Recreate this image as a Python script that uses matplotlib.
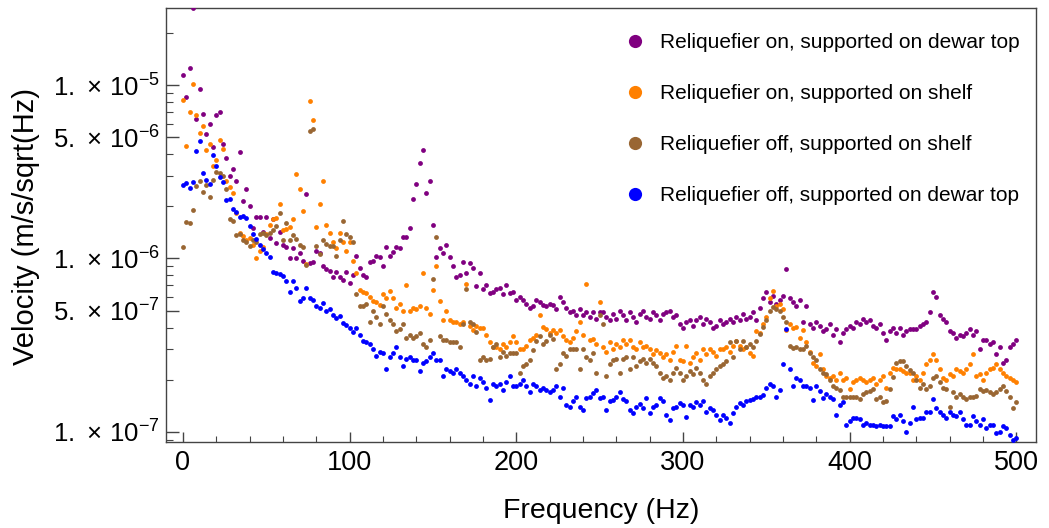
import numpy as np
import matplotlib
matplotlib.use("Agg")
import matplotlib.pyplot as plt
from matplotlib.lines import Line2D
from matplotlib.ticker import LogLocator, FuncFormatter, MultipleLocator, NullFormatter

plt.rcParams["font.family"] = ["Liberation Sans", "DejaVu Sans"]
plt.rcParams["mathtext.fontset"] = "custom"
plt.rcParams["mathtext.rm"] = "Liberation Sans"
plt.rcParams["mathtext.it"] = "Liberation Sans:italic"

# frequency grid (Hz), 2 Hz step
freq = np.arange(0, 501, 2)

# velocity spectra, in units of 1e-7 m/s/sqrt(Hz), one row = 20 Hz
on_dewar = [
    115, 85, 125, 278, 64, 95, 68, 52, 60, 44,
    67, 70, 46, 38, 30, 33, 28, 41, 21.5, 25,
    20, 15, 17.3, 17.3, 14.2, 17.3, 13.1, 17, 12.3, 14.2,
    12, 11.7, 10, 11.5, 10, 10.7, 9.7, 23.5, 9.4, 9.6,
    11, 10.7, 9.1, 8.7, 8.5, 7.8, 8.4, 7.8, 7.5, 8.4,
    7.2, 8, 10.4, 8.8, 8, 7.8, 9.6, 9.7, 10.4, 10.2,
    9, 11.6, 10.4, 10.9, 11.7, 11.5, 13.3, 13.3, 15, 22,
    27, 35.5, 42, 24, 28, 15.6, 10.2, 11.5, 10.8, 12,
    10.2, 9, 7.8, 8, 9.6, 8.2, 9.4, 8.8, 6.9, 8.2,
    6.7, 7, 6.3, 6.4, 6.7, 6.8, 6.2, 7, 6.3, 6.4,
    5.8, 6, 5.8, 5.5, 5.2, 5.3, 5.8, 5.6, 5.4, 5.3,
    5.5, 5.4, 5.1, 6, 5.6, 5.2, 4.9, 5.0, 4.75, 5.1,
    4.75, 4.9, 4.6, 4.9, 4.5, 4.9, 4.9, 4.6, 4.4, 4.8,
    4.5, 5.0, 4.7, 4.4, 4.9, 4.6, 4.3, 4.8, 5.0, 4.6,
    4.5, 4.9, 4.7, 4.4, 4.8, 4.9, 5.0, 4.6, 4.7, 4.2,
    4.0, 4.3, 4.4, 4.1, 4.4, 4.6, 4.2, 4.5, 4.3, 4.0,
    4.1, 4.4, 4.2, 4.3, 4.5, 4.3, 4.6, 4.4, 4.8, 4.5,
    4.6, 4.9, 4.4, 5.2, 5.9, 6.4, 5.6, 6.1, 5.5, 5.8,
    6.1, 8.7, 5.9, 5.6, 5.3, 5.8, 4.3, 5.3, 4.2, 4.0,
    4.3, 4.1, 3.8, 3.9, 4.2, 3.6, 3.9, 3.3, 3.7, 3.9,
    4.1, 4.0, 4.3, 4.2, 4.5, 4.3, 4.4, 4.1, 4.0, 4.2,
    3.7, 3.4, 3.8, 4.0, 3.7, 4.0, 3.6, 3.8, 3.9, 3.9,
    3.9, 4.1, 4.2, 4.3, 4.9, 6.4, 6.0, 4.7, 4.5, 4.3,
    3.8, 3.7, 3.5, 3.6, 3.55, 3.7, 3.9, 3.6, 3.8, 3.0,
    3.4, 3.4, 3.2, 3.3, 2.8, 3.1, 2.5, 2.6, 3.1, 3.2,
    3.4,
]

on_shelf = [
    82, 44.5, 70, 101, 67, 53, 58, 42, 46, 34,
    37, 48, 43, 28, 26, 24, 18.4, 14.1, 13.5, 12.8,
    13.2, 12, 10, 11.1, 11.6, 13.8, 15.7, 16.8, 17.2, 20.5,
    14.5, 14.7, 15.2, 17, 30.6, 25.2, 18.8, 9.3, 81, 63,
    15.2, 20.5, 28, 15.5, 14.1, 12.4, 11.5, 14, 12.5, 11.1,
    12.4, 9.7, 8.3, 6.6, 6.4, 6.3, 6.0, 5.65, 5.6, 5.4,
    6.2, 5.9, 6.5, 5.9, 5.2, 5.5, 4.95, 7, 5, 5.2,
    5.1, 5.3, 8.2, 5.2, 4.8, 6.6, 9.0, 5.65, 4.4, 5.0,
    4.4, 4.3, 4.3, 4.2, 4.3, 7.1, 4.1, 3.85, 4.1, 3.95,
    3.95, 3.6, 3.3, 3.1, 3.1, 3.0, 3.2, 3.1, 3.3, 3.55,
    3.3, 3.0, 3.0, 3.15, 3.4, 3.5, 3.6, 4.75, 4.05, 3.9,
    3.7, 3.85, 3.7, 3.85, 3.55, 3.4, 3.3, 3.5, 3.8, 4.3,
    3.6, 7.1, 3.4, 3.45, 3.2, 5.6, 3.1, 2.9, 3.3, 3.0,
    3.2, 3.1, 3.4, 3.2, 3.4, 3.1, 3.0, 3.3, 3.1, 3.15,
    3.0, 2.8, 2.95, 2.85, 2.7, 2.8, 2.6, 2.9, 3.15, 2.6,
    2.55, 3.15, 2.5, 2.7, 2.85, 2.6, 3.0, 2.8, 3.0, 2.9,
    2.75, 3.0, 3.0, 3.1, 2.9, 3.15, 3.35, 3.15, 3.0, 3.1,
    2.85, 2.75, 3.8, 3.7, 4.2, 4.6, 5.9, 6.5, 5.3, 5.45,
    5.1, 3.85, 4.2, 3.95, 4.05, 3.5, 3.85, 3.3, 2.9, 2.5,
    2.4, 2.8, 2.3, 2.1, 2.05, 2.1, 2.0, 2.2, 1.98, 2.05,
    1.77, 1.93, 2.0, 2.05, 2.0, 1.95, 1.98, 2.05, 1.9, 1.98,
    2.1, 1.8, 2.2, 2.35, 2.3, 2.3, 2.25, 2.2, 2.2, 1.98,
    2.1, 2.0, 2.2, 2.45, 2.6, 2.8, 2.6, 2.3, 2.05, 2.0,
    2.15, 2.1, 2.3, 2.25, 2.2, 2.3, 2.45, 2.8, 2.1, 2.15,
    2.0, 2.2, 2.3, 2.35, 2.45, 2.3, 2.2, 2.1, 2.05, 1.98,
    1.93,
]

off_shelf = [
    11.6, 16.3, 16.1, 19.1, 26.3, 28, 24.3, 26.6, 22.7, 28.4,
    31.6, 31, 30, 25, 16.8, 16.5, 13.6, 13.8, 12.7, 12.4,
    11.8, 12.7, 12.4, 13.8, 14, 13.6, 14, 14.6, 15.4, 18.2,
    12.7, 16, 12.7, 13.6, 13, 12, 11.6, 9.2, 54, 56,
    11.8, 10.6, 12.7, 12.2, 11.8, 11.8, 10.4, 12.7, 16.5, 13.8,
    13.3, 12.4, 6.2, 5.3, 5.3, 5.5, 4.3, 5.0, 4.6, 4.2,
    5.3, 4.8, 4.4, 4.2, 3.8, 3.9, 4.2, 3.5, 3.6, 3.5,
    3.55, 3.7, 3.2, 3.1, 3.4, 7.6, 13.3, 3.55, 3.4, 3.4,
    3.3, 3.3, 3.3, 3.1, 4.2, 6.7, 4.3, 4.2, 3.75, 2.6,
    2.7, 2.6, 2.65, 3.1, 3.2, 2.7, 2.9, 2.75, 2.85, 2.85,
    2.85, 2.2, 2.4, 2.45, 2.6, 2.95, 3.35, 3.55, 3.2, 3.35,
    3.6, 3.45, 2.3, 2.45, 2.85, 2.75, 3.0, 3.0, 3.0, 2.3,
    3.0, 2.7, 2.6, 2.85, 2.2, 4.75, 4.2, 2.1, 2.45, 2.6,
    2.65, 2.2, 2.65, 2.7, 2.3, 2.7, 2.4, 2.55, 2.65, 2.5,
    2.65, 2.5, 2.4, 2.2, 2.05, 2.1, 2.0, 2.2, 2.35, 2.2,
    2.0, 2.1, 2.25, 2.15, 2.35, 2.2, 2.0, 1.9, 2.1, 2.2,
    2.3, 2.4, 2.45, 2.55, 3.3, 2.7, 3.35, 3.0, 3.35, 3.1,
    3.2, 3.1, 3.35, 3.65, 4.05, 4.4, 5.0, 5.25, 5.1, 5.0,
    4.6, 4.3, 3.15, 3.05, 3.1, 3.0, 3.0, 3.15, 2.85, 2.7,
    2.6, 2.3, 2.2, 2.15, 2.0, 1.85, 1.8, 1.75, 1.58, 1.6,
    1.6, 1.6, 1.58, 1.55, 1.65, 1.69, 1.72, 1.77, 1.55, 1.6,
    1.48, 1.5, 1.77, 2.07, 2.5, 2.55, 2.55, 2.4, 2.27, 2.2,
    2.0, 1.8, 1.88, 1.77, 1.85, 2.05, 2.1, 1.95, 1.8, 1.77,
    1.4, 1.7, 1.6, 1.65, 1.6, 1.55, 1.6, 1.58, 1.62, 1.77,
    1.73, 1.75, 1.69, 1.65, 1.7, 1.77, 1.85, 1.73, 1.6, 1.38,
    1.48,
]

off_dewar = [
    26.5, 27.3, 25.4, 27.7, 41.8, 47.3, 31, 28.5, 27, 39.5,
    34, 29.6, 27.7, 21.8, 22, 19.4, 18.6, 17.4, 17.6, 17.1,
    15.4, 13.8, 13, 12, 11.4, 10.8, 10.2, 8.4, 8.2, 8.1,
    7.9, 7.4, 6.45, 7.4, 6.8, 5.65, 5.9, 6.8, 5.9, 5.8,
    5.3, 5.2, 5.55, 5.0, 5.1, 4.75, 4.55, 4.65, 4.25, 4.15,
    3.95, 3.78, 3.95, 3.6, 3.35, 3.3, 3.2, 3.0, 2.75, 2.9,
    2.85, 2.3, 2.7, 2.85, 3.1, 2.7, 2.4, 2.65, 2.7, 2.6,
    2.6, 2.25, 2.5, 2.55, 2.7, 2.85, 2.6, 2.6, 2.1, 2.3,
    2.25, 2.2, 2.3, 2.2, 2.1, 2.0, 1.9, 2.1, 1.83, 2.05,
    1.95, 1.8, 1.53, 1.9, 1.83, 1.9, 1.75, 1.95, 2.1, 1.83,
    1.83, 1.9, 1.98, 1.85, 1.7, 1.9, 1.83, 1.75, 1.8, 1.75,
    1.7, 1.75, 1.83, 1.6, 1.8, 1.43, 1.4, 1.5, 1.6, 1.4,
    1.33, 1.57, 1.6, 1.68, 1.75, 1.57, 1.6, 1.33, 1.5, 1.53,
    1.6, 1.7, 1.55, 1.5, 1.33, 1.28, 1.4, 1.45, 1.37, 1.57,
    1.28, 1.4, 1.43, 1.57, 1.5, 1.25, 1.17, 1.37, 1.4, 1.46,
    1.43, 1.22, 1.43, 1.4, 1.48, 1.43, 1.5, 1.3, 1.38, 1.33,
    1.25, 1.17, 1.25, 1.2, 1.12, 1.28, 1.4, 1.46, 1.43, 1.5,
    1.53, 1.55, 1.6, 1.6, 1.63, 1.78, 1.9, 1.83, 1.6, 1.75,
    2.45, 3.9, 2.3, 1.83, 2.05, 2.0, 1.83, 1.83, 1.78, 1.53,
    1.83, 1.73, 1.57, 1.65, 1.6, 1.55, 1.26, 1.43, 1.48, 1.1,
    1.15, 1.2, 1.2, 1.18, 1.1, 1.13, 1.1, 1.1, 1.08, 1.1,
    1.08, 1.08, 1.08, 1.23, 1.18, 1.26, 1.15, 1.0, 1.13, 1.4,
    1.18, 1.2, 1.2, 1.3, 1.3, 1.55, 1.38, 1.3, 1.26, 1.2,
    1.3, 1.26, 1.23, 1.3, 1.18, 1.1, 1.1, 1.23, 1.15, 1.1,
    1.18, 1.05, 1.1, 1.1, 0.99, 1.0, 1.08, 1.05, 0.96, 0.9,
    0.92,
]

labels = [
    "Reliquefier on, supported on dewar top",
    "Reliquefier on, supported on shelf",
    "Reliquefier off, supported on shelf",
    "Reliquefier off, supported on dewar top",
]
colors = ["#800080", "#FF8000", "#996633", "#0000FF"]
series = [on_dewar, on_shelf, off_shelf, off_dewar]
UNIT = 1e-7

fig = plt.figure(figsize=(10.49, 5.28), dpi=100)
ax = fig.add_axes([0.1582, 0.1629, 0.8298, 0.8219])

for vals, c in zip(series, colors):
    ax.scatter(freq, np.asarray(vals) * UNIT, s=12, color=c, linewidths=0, zorder=3)

ax.set_yscale("log")
ax.set_xlim(-10.2, 512)
ax.set_ylim(8.75e-8, 2.78e-5)

ax.xaxis.set_major_locator(MultipleLocator(100))
ax.xaxis.set_minor_locator(MultipleLocator(20))
ax.yaxis.set_major_locator(LogLocator(base=10, subs=(1.0, 5.0)))
ax.yaxis.set_minor_locator(LogLocator(base=10, subs=(2, 3, 4, 6, 7, 8, 9)))
ax.yaxis.set_minor_formatter(NullFormatter())


def sci_label(v, pos):
    exp = int(np.floor(np.log10(v) + 1e-9))
    mant = int(round(v / 10 ** exp))
    return r"$\mathregular{%d.\,\times\,10^{%d}}$" % (mant, exp)


ax.yaxis.set_major_formatter(FuncFormatter(sci_label))

frame = "#444444"
for sp in ax.spines.values():
    sp.set_color(frame)
    sp.set_linewidth(1.0)
ax.tick_params(which="both", direction="in", color=frame, top=False, right=False)
ax.tick_params(which="major", length=7, width=1.0)
ax.tick_params(which="minor", length=4, width=0.8)
ax.tick_params(axis="x", which="major", labelsize=19.5, pad=6)
ax.tick_params(axis="y", which="major", length=9, labelsize=18.5, pad=4)
ax.tick_params(axis="y", which="minor", length=5)

ax.set_xlabel("Frequency (Hz)", fontsize=20.5)
ax.set_ylabel("Velocity (m/s/sqrt(Hz)", fontsize=21)
ax.xaxis.set_label_coords(0.5, -0.128)
ax.yaxis.set_label_coords(-0.145, 0.497)

handles = [Line2D([], [], marker="o", ls="none", color=c, markersize=9.5,
                  markeredgewidth=0) for c in colors]
ax.legend(handles, labels, loc="upper left", frameon=False, fontsize=15,
          bbox_to_anchor=(624.6 / 1049, 1 - 33 / 528), bbox_transform=fig.transFigure,
          borderpad=0, borderaxespad=0, handlelength=1.0, handletextpad=0.7,
          labelspacing=1.54)

fig.savefig("out.png", dpi=100)
